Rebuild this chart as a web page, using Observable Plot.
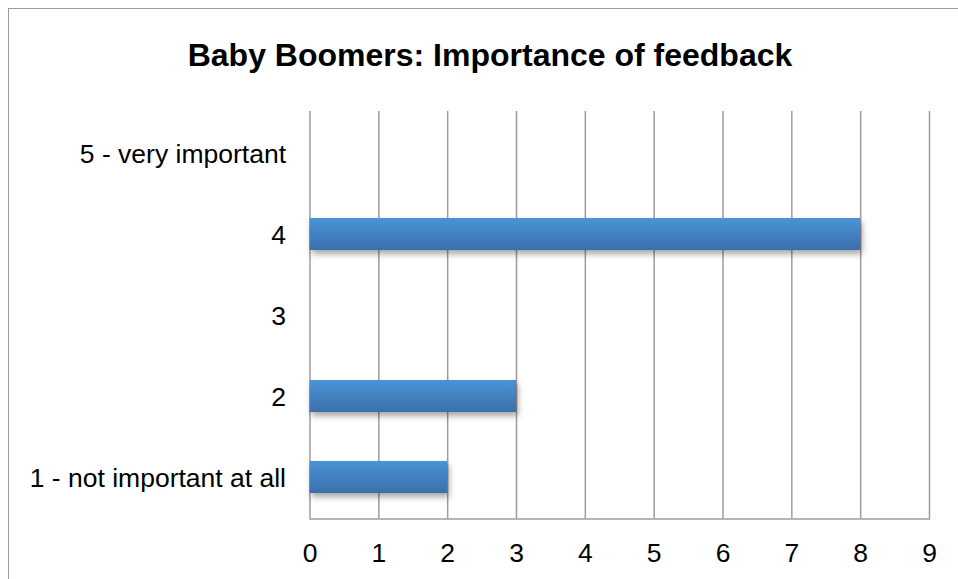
<!DOCTYPE html>
<html>
<head>
<meta charset="utf-8">
<script src="https://cdn.jsdelivr.net/npm/d3@7"></script>
<script src="https://cdn.jsdelivr.net/npm/@observablehq/plot@0.6"></script>
<style>
  html, body { margin: 0; padding: 0; background: #fff; }
  #wrap { position: relative; width: 958px; height: 579px; overflow: hidden; font-family: "Liberation Sans", Arial, sans-serif; }
  #border { position: absolute; left: 8px; top: 8px; width: 1000px; height: 700px; border-left: 1.5px solid #9c9c9c; border-top: 1.5px solid #9c9c9c; }
  #title { position: absolute; left: 0; top: 39px; width: 980px; text-align: center; font-weight: bold; font-size: 32px; line-height: 32px; color: #000; }
  #chart { position: absolute; left: 0; top: 0; }
</style>
</head>
<body>
<div id="wrap">
  <div id="border"></div>
  <div id="chart"></div>
  <div id="title">Baby Boomers: Importance of feedback</div>
</div>
<script>
const categories = ["5 - very important", "4", "3", "2", "1 - not important at all"];
const values = [0, 8, 0, 3, 2];
const xTicks = [0, 1, 2, 3, 4, 5, 6, 7, 8, 9];

const data = categories.map((c, i) => ({cat: c, value: values[i]}));

const chart = Plot.plot({
  width: 958,
  height: 579,
  marginLeft: 309.5,
  marginRight: 29,
  marginTop: 111,
  marginBottom: 60.5,
  style: {fontFamily: "'Liberation Sans', Arial, sans-serif", background: "transparent"},
  x: {domain: [0, 9]},
  y: {domain: categories, paddingInner: 0.6, paddingOuter: 0.3},
  marks: [
    Plot.ruleX(xTicks, {stroke: "#9c9c9c", strokeWidth: 1.5, strokeOpacity: 1}),
    Plot.frame({anchor: "bottom", stroke: "#9c9c9c", strokeWidth: 1.5, strokeOpacity: 1}),
    Plot.barX(data, {x: "value", y: "cat", fill: "url(#barGrad)", className: "bars"}),
    Plot.axisX({ticks: xTicks, tickSize: 0, tickPadding: 24, fontSize: 26.5, fill: "#000", label: null, tickFormat: d => String(d)}),
    Plot.axisY({tickSize: 0, tickPadding: 24, fontSize: 26.5, fill: "#000", label: null, dy: 1})
  ]
});

const ns = "http://www.w3.org/2000/svg";
const defs = document.createElementNS(ns, "defs");
defs.innerHTML = `
  <linearGradient id="barGrad" x1="0" y1="0" x2="0" y2="1">
    <stop offset="0" stop-color="#4a93d7"/>
    <stop offset="1" stop-color="#3a70aa"/>
  </linearGradient>`;
chart.insertBefore(defs, chart.firstChild);
chart.querySelectorAll(".bars rect, g.bars rect").forEach(r => {
  r.style.filter = "drop-shadow(2px 4px 3px rgba(0,0,0,0.35))";
});
document.getElementById("chart").appendChild(chart);
</script>
</body>
</html>
